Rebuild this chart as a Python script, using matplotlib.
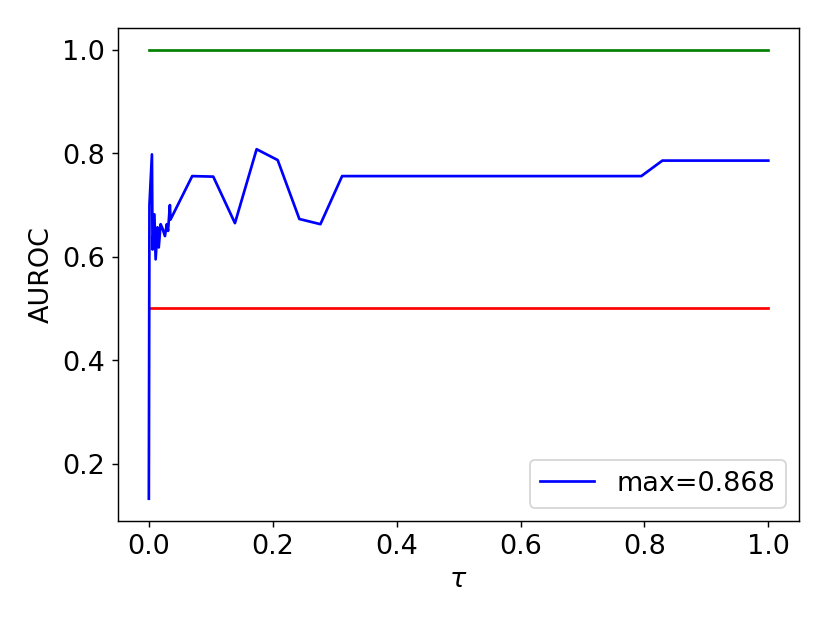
import matplotlib
matplotlib.use("Agg")
import matplotlib.pyplot as plt

# threshold values and AUROC
tau = [0.0, 0.001, 0.005, 0.006, 0.009, 0.011, 0.014, 0.016, 0.019, 0.022,
       0.026, 0.029, 0.031, 0.034, 0.035, 0.070, 0.104, 0.139, 0.174, 0.208,
       0.243, 0.277, 0.312, 0.345, 0.379, 0.414, 0.448, 0.483, 0.517, 0.552,
       0.586, 0.621, 0.655, 0.690, 0.724, 0.759, 0.795, 0.829, 0.862, 0.897,
       0.931, 0.966, 1.0]
auroc = [0.132, 0.70, 0.798, 0.614, 0.682, 0.595, 0.657, 0.618, 0.663, 0.655,
         0.64, 0.663, 0.65, 0.70, 0.672, 0.756, 0.755, 0.665, 0.808, 0.787,
         0.673, 0.663, 0.756, 0.756, 0.756, 0.756, 0.756, 0.756, 0.756, 0.756,
         0.756, 0.756, 0.756, 0.756, 0.756, 0.756, 0.756, 0.786, 0.786, 0.786,
         0.786, 0.786, 0.786]
best_score = 1.0
chance_score = 0.5

plt.rcParams['font.size'] = 15

# default 6.4x4.8 figure, rendered at a higher dpi to reach 830x623
fig = plt.figure(figsize=(6.4, 4.8), dpi=830 / 6.4)
ax = fig.add_axes([0.142, 0.162, 0.821, 0.793])

ax.plot([0, 1], [best_score, best_score], color='green')
ax.plot([0, 1], [chance_score, chance_score], color='red')
ax.plot(tau, auroc, color='blue', label='max=0.868')

ax.set_xlabel(r'$\tau$')
ax.set_ylabel('AUROC')
ax.legend(loc='lower right')

fig.savefig('out.png', dpi=830 / 6.4)
